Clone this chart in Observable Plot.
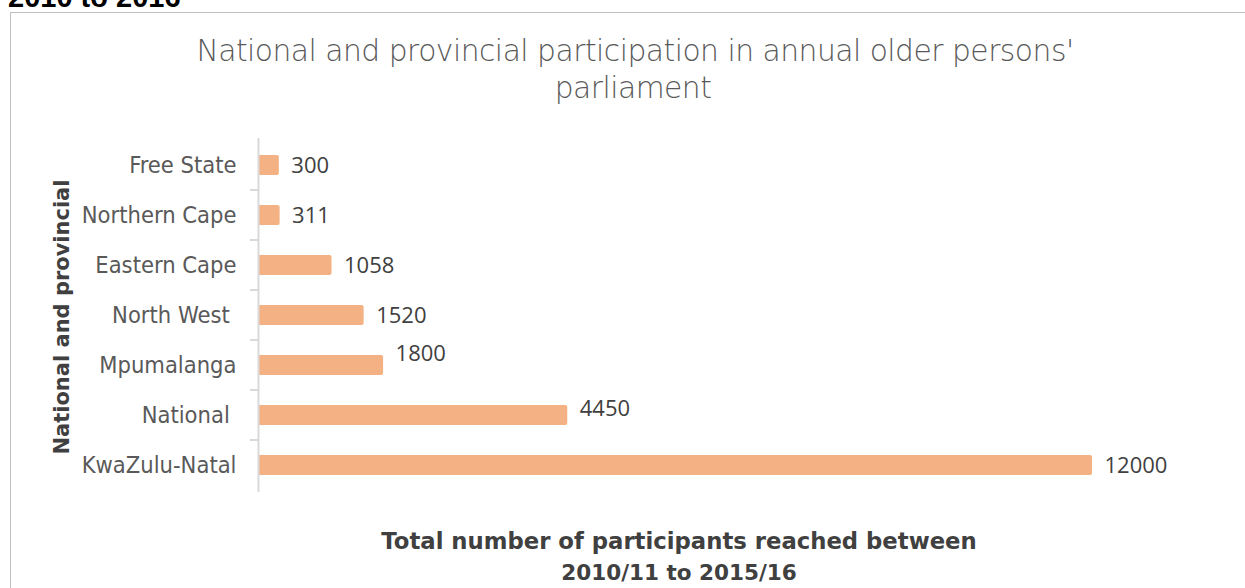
<!DOCTYPE html>
<html><head><meta charset="utf-8">
<script src="https://cdn.jsdelivr.net/npm/d3@7"></script>
<script src="https://cdn.jsdelivr.net/npm/@observablehq/plot@0.6"></script>
<style>
body{margin:0;width:1245px;height:588px;overflow:hidden;position:relative;background:#fff;font-family:"Liberation Sans",Arial,sans-serif}
#cut{position:absolute;left:8px;top:-17px;font:bold 29px/29px "Liberation Sans",Arial,sans-serif;color:#000;white-space:nowrap}
#frame{position:absolute;left:10px;top:12px;width:1300px;height:700px;border:1px solid #c0c0c0;box-sizing:border-box}
.t{position:absolute;white-space:nowrap;transform:translate(-50%,-50%);line-height:1}
.title{font-family:"DejaVu Sans",sans-serif;font-weight:200;font-size:24px;color:#595959;letter-spacing:-0.5px}
.xt{font-family:"DejaVu Sans",sans-serif;font-weight:700;font-size:21px;color:#404040}
#yt{font-family:"DejaVu Sans",sans-serif;font-weight:700;font-size:20px;color:#404040;transform:translate(-50%,-50%) rotate(-90deg)}
#chart{position:absolute;left:0;top:130px}
#chart g[aria-label^="y-axis"] text{font-family:"DejaVu Sans Condensed","DejaVu Sans",sans-serif;font-size:23.5px;fill:#595959;white-space:pre}
</style>
</head><body>
<div id="cut">2010 to 2016</div>
<div id="frame"></div>
<div class="t title" id="title1" style="left:635px;top:51px">National and provincial participation in annual older persons'</div>
<div class="t title" id="title2" style="left:633px;top:88px">parliament</div>
<div id="chart"></div>
<div class="t" id="yt" style="left:62px;top:317px">National and provincial</div>
<div class="t xt" id="xt1" style="left:679px;top:541px">Total number of participants reached between</div>
<div class="t xt" id="xt2" style="left:679px;top:573px">2010/11 to 2015/16</div>
<script>
const categories = ["Free State", "Northern Cape", "Eastern Cape", "North West ", "Mpumalanga", "National ", "KwaZulu-Natal"];
const participants = [300, 311, 1058, 1520, 1800, 4450, 12000];
const xDomain = [0, 12000];

const data = categories.map((c, i) => ({province: c, value: participants[i]}));
const raised = {"Mpumalanga": -12, "National ": -7};

const labelStyle = {x: "value", y: "province", text: d => String(d.value), textAnchor: "start", dx: 12,
  fontFamily: "Open Sans, sans-serif", fontSize: 22, fill: "#404040"};

const chart = Plot.plot({
  width: 1245, height: 370,
  marginLeft: 258, marginRight: 153, marginTop: 8, marginBottom: 8,
  x: {domain: xDomain, axis: null},
  y: {domain: categories, padding: 0, tickSize: 0, tickPadding: 22, label: null},
  marks: [
    Plot.barX(data, {x: "value", y: "province", fill: "#F4B183", rx: 2, insetTop: 15, insetBottom: 15}),
    Plot.ruleX([0], {stroke: "#d9d9d9", strokeWidth: 2}),
    Plot.text(data.filter(d => !(d.province in raised)), labelStyle),
    Plot.text(data.filter(d => d.province === "Mpumalanga"), {...labelStyle, dy: raised["Mpumalanga"]}),
    Plot.text(data.filter(d => d.province === "National "), {...labelStyle, dy: raised["National "]})
  ]
});
document.getElementById("chart").appendChild(chart);

// boundary ticks between categories, from the plot's own scales
const ys = chart.scale("y"), xs = chart.scale("x");
const x0 = xs.apply(0);
const svg = d3.select(chart);
categories.slice(1).forEach(c => {
  const yb = ys.apply(c) + ys.bandwidth / 2 - ys.step / 2;
  svg.append("line").attr("x1", x0 - 8).attr("x2", x0).attr("y1", yb).attr("y2", yb)
    .attr("stroke", "#d9d9d9").attr("stroke-width", 2);
});

function fit(id, w) {
  const el = document.getElementById(id);
  const fs = parseFloat(getComputedStyle(el).fontSize);
  el.style.fontSize = (fs * w / el.offsetWidth) + "px";
}
fit("title1", 870); fit("title2", 156);
fit("xt1", 596); fit("xt2", 236);
fit("yt", 275);
</script>
</body></html>
